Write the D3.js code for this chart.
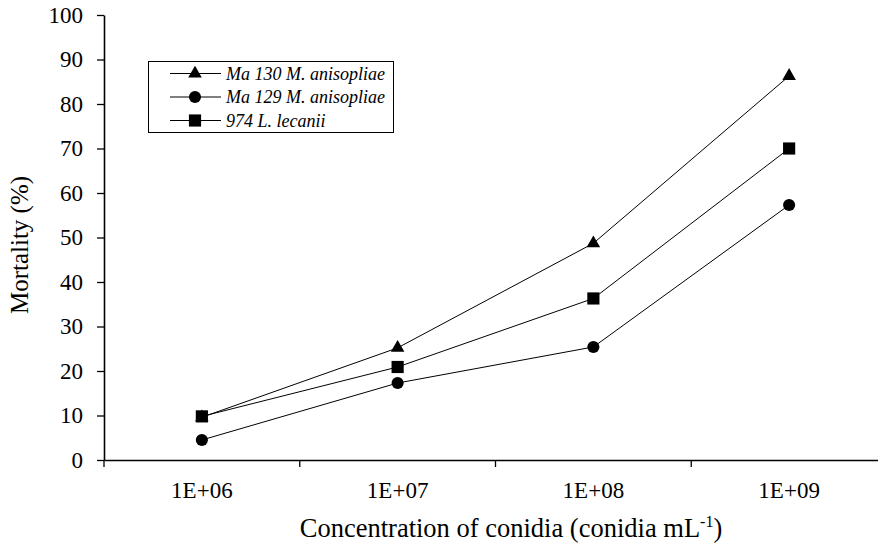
<!DOCTYPE html>
<html>
<head>
<meta charset="utf-8">
<script src="https://cdn.jsdelivr.net/npm/d3@7"></script>
<style>
html,body{margin:0;padding:0;background:#fff;}
svg{display:block;}
svg text{font-family:"Liberation Serif","Times New Roman",Tinos,"DejaVu Serif",serif !important;fill:#000;}
</style>
</head>
<body>
<svg id="chart" width="878" height="545"></svg>
<script>
const categories = ["1E+06","1E+07","1E+08","1E+09"];
const seriesNames = ["Ma 130 M. anisopliae","Ma 129 M. anisopliae","974 L. lecanii"];
const ma130 = [9.6, 25.2, 48.7, 86.3];
const ma129 = [4.5, 17.3, 25.4, 57.3];
const l974 = [9.8, 20.9, 36.3, 70.0];
const yTicks = [0,10,20,30,40,50,60,70,80,90,100];
const symbols = [d3.symbolTriangle, d3.symbolCircle, d3.symbolSquare];

const series = [
  {name: seriesNames[0], values: ma130, symbol: symbols[0], size: 80},
  {name: seriesNames[1], values: ma129, symbol: symbols[1], size: 115},
  {name: seriesNames[2], values: l974, symbol: symbols[2], size: 148}
];

const FONT = "'Liberation Serif','Times New Roman',serif";
const svg = d3.select("#chart");
const x = d3.scaleBand().domain(categories).range([104, 887]);
const y = d3.scaleLinear().domain([0,100]).range([460, 15]);

// y axis
const yAxis = svg.append("g").attr("transform","translate(104,0)")
  .call(d3.axisLeft(y).tickValues(yTicks).tickSize(7).tickPadding(14).tickSizeOuter(0));
yAxis.attr("font-family", FONT);
yAxis.select(".domain").attr("stroke","#000").attr("stroke-width",1.6);
yAxis.selectAll(".tick line").attr("stroke","#000").attr("stroke-width",1.3);
yAxis.selectAll(".tick text").attr("font-size",23);

// x axis
const xAxis = svg.append("g").attr("transform","translate(0,460)")
  .call(d3.axisBottom(x).tickSize(0).tickPadding(22).tickSizeOuter(0));
xAxis.attr("font-family", FONT);
xAxis.select(".domain").attr("stroke","#000").attr("stroke-width",1.6);
xAxis.selectAll(".tick text").attr("font-size",23);
const bounds = categories.map(c => x(c));
xAxis.selectAll(".btick").data(bounds).enter().append("line")
  .attr("x1", d => d).attr("x2", d => d).attr("y1", 0).attr("y2", 7)
  .attr("stroke","#000").attr("stroke-width",1.3);

// lines and markers
const line = d3.line().x((d,i) => x(categories[i]) + x.bandwidth()/2).y(d => y(d));
series.forEach(s => {
  svg.append("path").datum(s.values).attr("d", line)
    .attr("fill","none").attr("stroke","#000").attr("stroke-width",1);
});
series.forEach(s => {
  svg.selectAll(null).data(s.values).enter().append("path")
    .attr("d", d3.symbol().type(s.symbol).size(s.size))
    .attr("transform", (d,i) => `translate(${x(categories[i]) + x.bandwidth()/2},${y(d)})`)
    .attr("fill","#000");
});

// legend
const lg = svg.append("g").attr("transform","translate(148,61)").attr("font-family", FONT);
lg.append("rect").attr("x",0.5).attr("y",0.5).attr("width",245).attr("height",71)
  .attr("fill","#fff").attr("stroke","#000").attr("stroke-width",1);
series.forEach((s,i) => {
  const yy = 12.5 + i*23.5;
  lg.append("line").attr("x1",22).attr("x2",73).attr("y1",yy).attr("y2",yy)
    .attr("stroke","#000").attr("stroke-width",1);
  lg.append("path").attr("d", d3.symbol().type(s.symbol).size(s.size))
    .attr("transform",`translate(47,${yy})`).attr("fill","#000");
  lg.append("text").attr("x",78).attr("y",yy+6).attr("font-size",18)
    .attr("font-style","italic").text(s.name);
});

// axis titles
svg.append("text").attr("transform","translate(28,245) rotate(-90)")
  .attr("font-family", FONT)
  .attr("text-anchor","middle").attr("font-size",25).text("Mortality (%)");
const xt = svg.append("text").attr("x",511).attr("y",537).attr("font-family", FONT)
  .attr("text-anchor","middle").attr("font-size",26.5);
xt.append("tspan").text("Concentration of conidia (conidia mL");
xt.append("tspan").attr("dy",-10).attr("font-size",16).text("-1");
xt.append("tspan").attr("dy",10).text(")");
</script>
</body>
</html>
